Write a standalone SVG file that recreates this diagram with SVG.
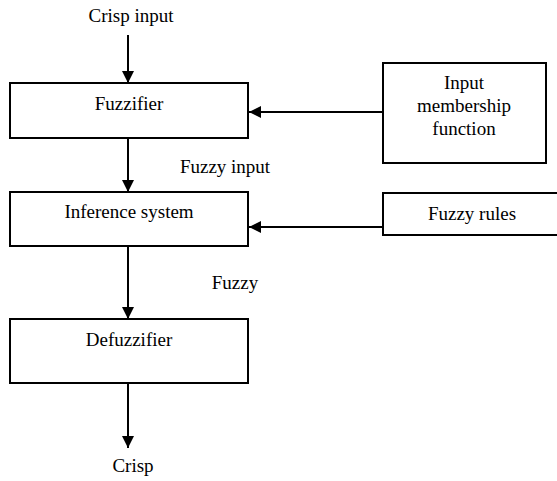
<svg xmlns="http://www.w3.org/2000/svg" width="557" height="481" viewBox="0 0 557 481">
<style>
.box{fill:#fff;stroke:#000;stroke-width:2}
.ln{stroke:#000;stroke-width:2;fill:none}
.c{text-anchor:middle}
</style>
<defs>
<marker id="ah" markerWidth="12" markerHeight="12" refX="12" refY="6" orient="auto" markerUnits="userSpaceOnUse">
<path d="M0,0 L12,6 L0,12 Z" fill="#000"/>
</marker>
</defs>
<rect width="557" height="481" fill="#fff"/>
<g id="connectors">
<line class="ln" marker-end="url(#ah)" x1="128" y1="35" x2="128" y2="83"/>
<line class="ln" marker-end="url(#ah)" x1="128" y1="138" x2="128" y2="192"/>
<line class="ln" marker-end="url(#ah)" x1="128" y1="246" x2="128" y2="319"/>
<line class="ln" marker-end="url(#ah)" x1="128" y1="383" x2="128" y2="448"/>
<line class="ln" marker-end="url(#ah)" x1="383" y1="112" x2="249" y2="112"/>
<line class="ln" marker-end="url(#ah)" x1="383" y1="227" x2="249" y2="227"/>
</g>
<g id="crisp-input"><text class="c" font-family="Liberation Serif" font-size="19" x="131" y="22">Crisp input</text></g>
<g id="fuzzifier"><rect class="box" x="10" y="83" width="238" height="55"/><text class="c" font-family="Liberation Serif" font-size="19" x="129" y="110">Fuzzifier</text></g>
<g id="fuzzy-input"><text class="c" font-family="Liberation Serif" font-size="19" x="225" y="173">Fuzzy input</text></g>
<g id="inference"><rect class="box" x="10" y="192" width="238" height="54"/><text class="c" font-family="Liberation Serif" font-size="19" x="129" y="218">Inference system</text></g>
<g id="fuzzy"><text class="c" font-family="Liberation Serif" font-size="19" x="235" y="289">Fuzzy</text></g>
<g id="defuzzifier"><rect class="box" x="10" y="319" width="238" height="64"/><text class="c" font-family="Liberation Serif" font-size="19" x="129" y="346">Defuzzifier</text></g>
<g id="crisp"><text class="c" font-family="Liberation Serif" font-size="19" x="133" y="472">Crisp</text></g>
<g id="membership"><rect class="box" x="383" y="63" width="163" height="100"/><text class="c" font-family="Liberation Serif" font-size="19" x="464" y="89">Input</text><text class="c" font-family="Liberation Serif" font-size="19" x="464" y="112">membership</text><text class="c" font-family="Liberation Serif" font-size="19" x="464" y="135">function</text></g>
<g id="rules"><rect class="box" x="383" y="193" width="175" height="42"/><text class="c" font-family="Liberation Serif" font-size="19" x="472" y="220">Fuzzy rules</text></g>
</svg>
